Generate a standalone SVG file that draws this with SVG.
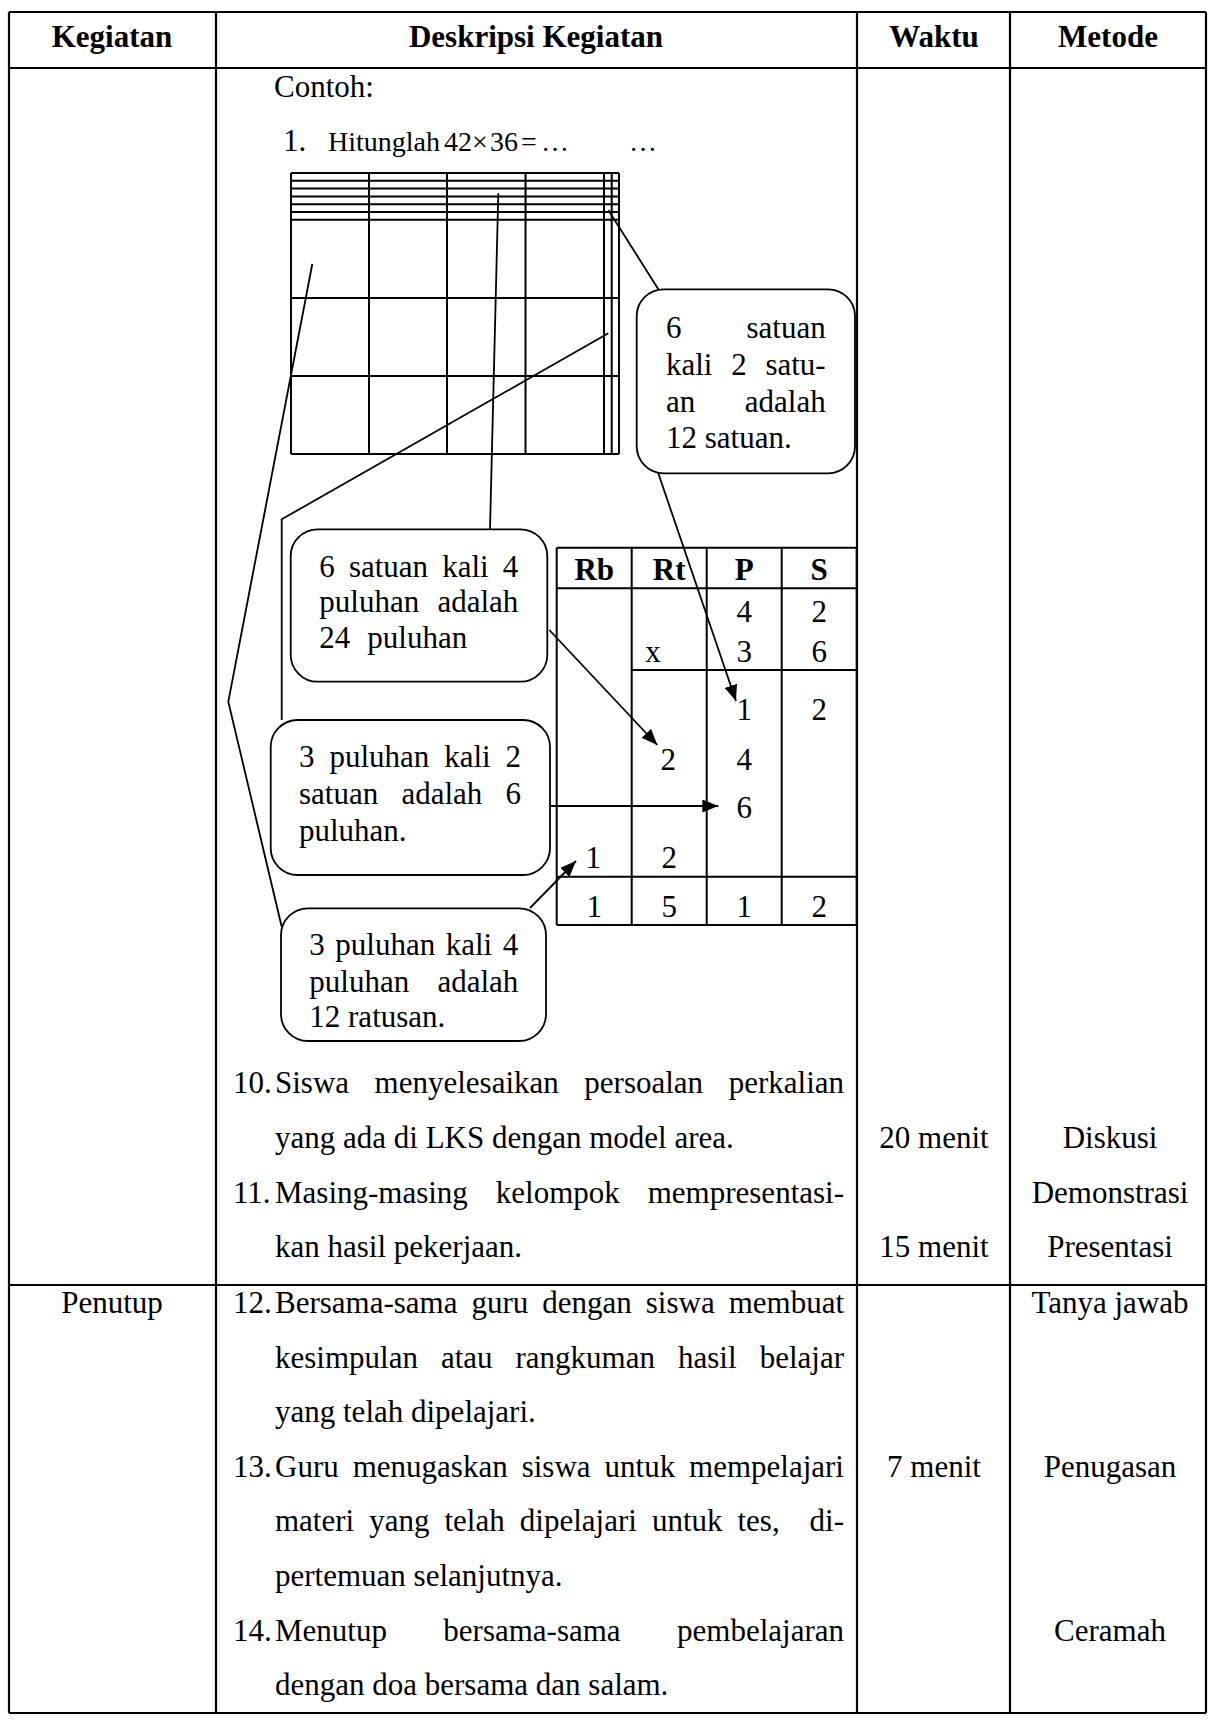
<svg xmlns="http://www.w3.org/2000/svg" width="1208" height="1721" viewBox="0 0 1208 1721">
<style>
text{font-family:"Liberation Serif","Times New Roman",serif;font-size:31px;fill:#000}
.b{font-weight:bold}
.c{text-anchor:middle}
.e{text-anchor:end}
.s{font-size:28px}
.tl{stroke:#000;stroke-width:2.2;fill:none}
.gl{stroke:#000;stroke-width:2;fill:none}
.co{fill:#fff;stroke:#000;stroke-width:1.8}
.cn{stroke:#000;stroke-width:1.8;fill:none}
</style>
<defs>
<marker id="ah" markerUnits="userSpaceOnUse" markerWidth="17" markerHeight="13" refX="16" refY="6.5" orient="auto">
<path d="M0,0 L16,6.5 L0,13 z" fill="#000"/>
</marker>
</defs>
<rect width="1208" height="1721" fill="#fff"/>

<g id="table">
<path class="tl" d="M9,12 H1206 M9,68 H1206 M9,1285 H1206 M9,1713 H1206 M9,12 V1713 M216,12 V1713 M857,12 V1713 M1010,12 V1713 M1206,12 V1713"/>
</g>

<g id="header">
<text class="b c" x="112" y="47">Kegiatan</text>
<text class="b c" x="536" y="47">Deskripsi Kegiatan</text>
<text class="b c" x="934" y="47">Waktu</text>
<text class="b c" x="1108" y="47">Metode</text>
</g>

<g id="intro">
<text x="274" y="97">Contoh:</text>
<text x="283" y="151">1.</text>
<text class="s" x="328" y="151">Hitunglah</text>
<text class="s" x="444" y="151">42</text>
<text class="s c" x="480" y="151">×</text>
<text class="s" x="490" y="151">36</text>
<text class="s" x="521" y="151">=</text>
<text class="s" x="541" y="151" textLength="116" lengthAdjust="spacing">……</text>
</g>

<g id="area-grid">
<path class="gl" d="M291,173 H619 M291,180.8 H619 M291,188.6 H619 M291,196.4 H619 M291,204.2 H619 M291,212 H619 M291,219.8 H619 M291,298 H619 M291,376 H619 M291,454 H619 M291,173 V454 M369,173 V454 M447,173 V454 M525.5,173 V454 M604,173 V454 M611.7,173 V454 M619,173 V454"/>
</g>

<g id="place-table">
<path class="gl" d="M556.7,547.7 H856.7 M556.7,588.3 H856.7 M631.7,670 H856.7 M556.7,876.7 H856.7 M556.7,925 H856.7 M556.7,547.7 V925 M631.7,547.7 V925 M706.7,547.7 V925 M781.7,547.7 V925 M856.7,547.7 V925"/>
<text class="b c" x="594.2" y="580">Rb</text>
<text class="b c" x="669.2" y="580">Rt</text>
<text class="b c" x="744.2" y="580">P</text>
<text class="b c" x="819.2" y="580">S</text>
<text class="c" x="744.2" y="621.7">4</text>
<text class="c" x="819.2" y="621.7">2</text>
<text class="c" x="653" y="661.7">x</text>
<text class="c" x="744.2" y="661.7">3</text>
<text class="c" x="819.2" y="661.7">6</text>
<text class="c" x="744.2" y="720">1</text>
<text class="c" x="819.2" y="720">2</text>
<text class="c" x="668.3" y="770">2</text>
<text class="c" x="744.2" y="770">4</text>
<text class="c" x="744.2" y="818.3">6</text>
<text class="c" x="593.3" y="868.3">1</text>
<text class="c" x="669.2" y="868.3">2</text>
<text class="c" x="594.2" y="916.7">1</text>
<text class="c" x="669.2" y="916.7">5</text>
<text class="c" x="744.2" y="916.7">1</text>
<text class="c" x="819.2" y="916.7">2</text>
</g>

<g id="connectors">
<polyline class="cn" points="312.3,264 228.3,701.7 281.7,926.7"/>
<polyline class="cn" points="608.3,333.3 281.7,519.3 281.7,720"/>
<line class="cn" x1="498.3" y1="193.3" x2="490" y2="529.3"/>
<line class="cn" x1="608.3" y1="210" x2="658.5" y2="289.5"/>
<line class="cn" x1="658.3" y1="473.3" x2="736" y2="701" marker-end="url(#ah)"/>
<line class="cn" x1="549.3" y1="630" x2="657.3" y2="745" marker-end="url(#ah)"/>
<line class="cn" x1="550" y1="806" x2="718.3" y2="806" marker-end="url(#ah)"/>
<line class="cn" x1="530" y1="908" x2="576" y2="861" marker-end="url(#ah)"/>
</g>

<g id="callout-satuan-satuan">
<rect class="co" x="636.7" y="289.3" width="218.3" height="184" rx="27"/>
<text x="666" y="338">6</text>
<text class="e" x="825.7" y="338">satuan</text>
<text x="666" y="375">kali</text>
<text x="731.2" y="375">2</text>
<text x="765.4" y="375">satu-</text>
<text x="666" y="411.7">an</text>
<text class="e" x="825.7" y="411.7">adalah</text>
<text x="666" y="448.3">12 satuan.</text>
</g>

<g id="callout-satuan-puluhan">
<rect class="co" x="290.7" y="529.3" width="256.6" height="152.4" rx="27"/>
<text x="319.3" y="577.3">6</text>
<text x="348.9" y="577.3">satuan</text>
<text x="442.2" y="577.3">kali</text>
<text x="502.8" y="577.3">4</text>
<text x="319.3" y="612">puluhan</text>
<text class="e" x="518.3" y="612">adalah</text>
<text x="319.3" y="647.7">24</text>
<text x="367.3" y="647.7">puluhan</text>
</g>

<g id="callout-puluhan-satuan">
<rect class="co" x="270.7" y="720" width="279.3" height="155" rx="27"/>
<text x="299" y="767.3">3</text>
<text x="329.4" y="767.3">puluhan</text>
<text x="444.2" y="767.3">kali</text>
<text x="505.6" y="767.3">2</text>
<text x="299" y="804">satuan</text>
<text x="401.4" y="804">adalah</text>
<text x="505.5" y="804">6</text>
<text x="299" y="840.7">puluhan.</text>
</g>

<g id="callout-puluhan-puluhan">
<rect class="co" x="281" y="908.3" width="265" height="132.7" rx="27"/>
<text x="309.3" y="955">3</text>
<text x="335.3" y="955">puluhan</text>
<text x="445.7" y="955">kali</text>
<text x="502.7" y="955">4</text>
<text x="309.3" y="991.7">puluhan</text>
<text class="e" x="518.3" y="991.7">adalah</text>
<text x="309.3" y="1026.7">12 ratusan.</text>
</g>

<g id="body-text">
<text x="233" y="1093">10.</text>
<text x="275" y="1093">Siswa</text>
<text x="374.6" y="1093">menyelesaikan</text>
<text x="584.3" y="1093">persoalan</text>
<text class="e" x="844" y="1093">perkalian</text>
<text x="275" y="1148">yang ada di LKS dengan model area.</text>
<text x="233" y="1202.5">11.</text>
<text x="275" y="1202.5">Masing-masing</text>
<text x="495.8" y="1202.5">kelompok</text>
<text class="e" x="844" y="1202.5">mempresentasi-</text>
<text x="275" y="1257">kan hasil pekerjaan.</text>
<text x="233" y="1313">12.</text>
<text x="275" y="1313">Bersama-sama</text>
<text x="471.5" y="1313">guru</text>
<text x="542.3" y="1313">dengan</text>
<text x="645.8" y="1313">siswa</text>
<text class="e" x="844" y="1313">membuat</text>
<text x="275" y="1368">kesimpulan</text>
<text x="440.9" y="1368">atau</text>
<text x="515.5" y="1368">rangkuman</text>
<text x="678" y="1368">hasil</text>
<text class="e" x="844" y="1368">belajar</text>
<text x="275" y="1422">yang telah dipelajari.</text>
<text x="233" y="1477">13.</text>
<text x="275" y="1477">Guru</text>
<text x="352.7" y="1477">menugaskan</text>
<text x="521.7" y="1477">siswa</text>
<text x="604.6" y="1477">untuk</text>
<text class="e" x="844" y="1477">mempelajari</text>
<text x="275" y="1531">materi</text>
<text x="369.2" y="1531">yang</text>
<text x="444.5" y="1531">telah</text>
<text x="519.8" y="1531">dipelajari</text>
<text x="651.9" y="1531">untuk</text>
<text x="737.5" y="1531">tes,</text>
<text class="e" x="844" y="1531">di-</text>
<text x="275" y="1586">pertemuan selanjutnya.</text>
<text x="233" y="1641">14.</text>
<text x="275" y="1641">Menutup</text>
<text x="443.3" y="1641">bersama-sama</text>
<text class="e" x="844" y="1641">pembelajaran</text>
<text x="275" y="1695">dengan doa bersama dan salam.</text>
</g>

<g id="col-kegiatan">
<text class="c" x="112" y="1313">Penutup</text>
</g>

<g id="col-waktu">
<text class="c" x="934" y="1148">20 menit</text>
<text class="c" x="934" y="1257">15 menit</text>
<text class="c" x="934" y="1477">7 menit</text>
</g>

<g id="col-metode">
<text class="c" x="1110" y="1148">Diskusi</text>
<text class="c" x="1110" y="1202.5">Demonstrasi</text>
<text class="c" x="1110" y="1257">Presentasi</text>
<text class="c" x="1110" y="1313">Tanya jawab</text>
<text class="c" x="1110" y="1477">Penugasan</text>
<text class="c" x="1110" y="1641">Ceramah</text>
</g>
</svg>
